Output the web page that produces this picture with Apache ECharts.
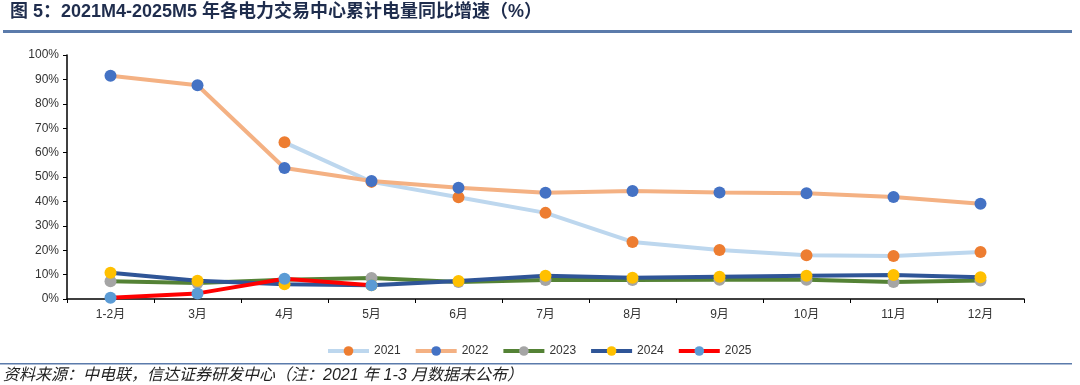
<!DOCTYPE html>
<html><head><meta charset="utf-8">
<script src="https://cdn.jsdelivr.net/npm/echarts@6/dist/echarts.min.js"></script>
<style>html,body{margin:0;padding:0;background:#fff}#c{width:1080px;height:385px}</style>
</head><body><div id="c"></div>
<script>
const categories = ['1-2月','3月','4月','5月','6月','7月','8月','9月','10月','11月','12月'];
const yTicks = [0,10,20,30,40,50,60,70,80,90,100];
const s2021 = [null, null, 64.2, 48.0, 41.7, 35.3, 23.4, 20.1, 17.9, 17.6, 19.3];
const s2022 = [91.5, 87.6, 53.7, 48.4, 45.6, 43.5, 44.3, 43.6, 43.3, 41.8, 39.0];
const s2023 = [7.3, 6.6, 7.9, 8.6, 7.0, 7.8, 7.8, 7.9, 7.9, 7.0, 7.6];
const s2024 = [10.8, 7.5, 6.0, 5.6, 7.4, 9.5, 8.7, 9.1, 9.5, 9.8, 8.9];
const s2025 = [0.5, 2.3, 8.3, 5.6];
const names = ['2021','2022','2023','2024','2025'];
const lineColors = ['#bdd7ee','#f4b183','#548235','#2f5597','#ff0000'];
const dotColors = ['#ed7d31','#4472c4','#a5a5a5','#ffc000','#5b9bd5'];
const datas = [s2021, s2022, s2023, s2024, s2025];

const chart = echarts.init(document.getElementById('c'));
const font = '"Liberation Sans", Arial, "Noto Sans CJK SC", sans-serif';
chart.setOption({
  animation: false,
  backgroundColor: '#fff',
  textStyle: {fontFamily: font},
  grid: {left: 67, right: 56, top: 55, bottom: 86},
  graphic: [
    {type:'text', left: 10, top: 3, style:{text:'图 5：2021M4-2025M5 年各电力交易中心累计电量同比增速（%）', font:'bold 18px "Liberation Sans", "Noto Sans CJK SC", sans-serif', fill:'#1f2d4d'}},
    {type:'rect', shape:{x:3, y:30, width:1069, height:3}, style:{fill:'#5b7bab'}},
    {type:'rect', shape:{x:0, y:363, width:1072, height:1.5}, style:{fill:'#5b7bab'}},
    {type:'text', left: 3, top: 368, style:{text:'资料来源：中电联，信达证券研发中心（注：2021 年 1-3 月数据未公布）', font:'italic 16px "Liberation Sans", "Noto Sans CJK SC", sans-serif', fill:'#222'}}
  ],
  legend: {
    top: 345, left: 326, padding: 0, itemWidth: 41, itemHeight: 12, itemGap: 13,
    textStyle: {fontSize: 12, color: '#333'},
    lineStyle: {width: 4},
    data: names
  },
  xAxis: {
    type: 'category', data: categories, boundaryGap: true,
    axisLine: {lineStyle: {color: '#000', width: 1.5}},
    axisTick: {show: true, length: 4, lineStyle: {color: '#000'}},
    axisLabel: {color: '#333', fontSize: 12, margin: 10}
  },
  yAxis: {
    type: 'value', min: yTicks[0], max: yTicks[yTicks.length-1], interval: 10,
    axisLine: {show: true, lineStyle: {color: '#000', width: 1.5}},
    axisTick: {show: true, length: 4, lineStyle: {color: '#000'}},
    splitLine: {show: false},
    axisLabel: {color: '#333', fontSize: 12, formatter: '{value}%', margin: 8}
  },
  series: names.map((n, i) => ({
    name: n, type: 'line', data: datas[i],
    symbol: 'circle', symbolSize: 12, showAllSymbol: true,
    lineStyle: {color: lineColors[i], width: 4},
    itemStyle: {color: dotColors[i], borderWidth: 0},
    color: dotColors[i],
    z: 2 + i
  }))
});
</script></body></html>
